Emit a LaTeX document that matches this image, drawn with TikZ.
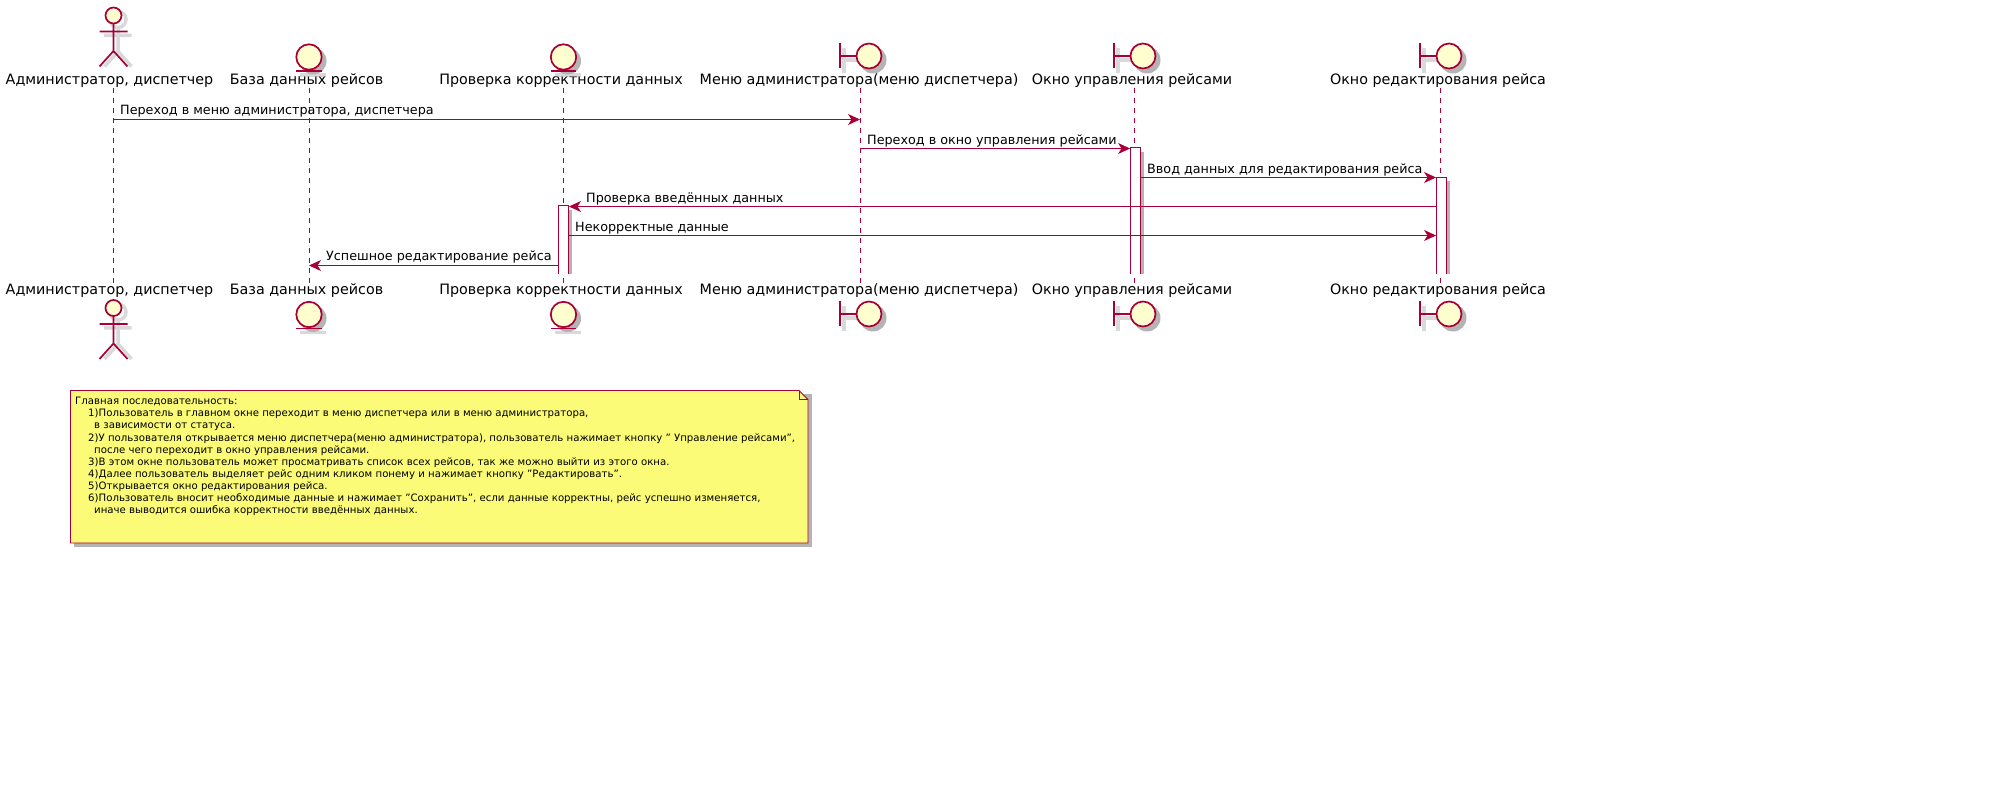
\documentclass[tikz,border=0pt]{standalone}
\usepackage{fontspec}
\setmainfont{DejaVu Sans}
\usepackage{xcolor}
\definecolor{umlline}{HTML}{A80036}
\definecolor{umlfill}{HTML}{FEFECE}
\definecolor{umlnote}{HTML}{FBFB77}
\definecolor{umlshade}{HTML}{B4B4B4}
\usetikzlibrary{arrows.meta,positioning,calc}
\tikzset{
  title/.style={font=\fontsize{14.3}{16}\selectfont,inner sep=0pt,text=black},
  msgtext/.style={font=\fontsize{12.75}{15}\selectfont,inner sep=0pt,anchor=base west,text=black},
  msg/.style={draw=umlline,line width=1pt,-{Stealth[length=12pt,width=11pt,inset=3.5pt]}},
  life/.style={draw=umlline,line width=.9pt,dash pattern=on 5pt off 5pt},
  actbar/.style={fill=white,minimum width=10.5pt,inner sep=0pt,anchor=north},
  shade/.style={draw=umlshade,opacity=.5,line width=3.5pt},
  umlstroke/.style={draw=umlline,line width=1.7pt},
  actorfig/.pic={
    \draw[shade] (4.5,4) circle (8) (-9.5,20) -- (18,20) (4.5,12) -- (4.5,36) (-9,51) -- (4.5,36) -- (18,51);
    \draw[umlstroke,fill=umlfill] (0,0) circle (8);
    \draw[umlstroke] (-14,16) -- (14,16) (0,8) -- (0,35.5) (-14,51) -- (0,35.5) -- (14,51);
  },
  entityfig/.pic={
    \fill[umlshade] (4,4) circle (13.5);
    \draw[shade] (-9,18) -- (17,18);
    \draw[umlstroke,fill=umlfill] (0,0) circle (12.7);
    \draw[umlstroke] (-12.7,14) -- (12.7,14);
  },
  boundaryfig/.pic={
    \fill[umlshade] (13,4) circle (13.5);
    \draw[shade] (-16,-8) -- (-16,17) (-16,4) -- (-3,4);
    \draw[umlstroke,fill=umlfill] (9,0) circle (12.5);
    \draw[umlstroke] (-20,-12.5) -- (-20,12.5) (-20,0) -- (-3.5,0);
  }
}
\newcommand{\actbox}[4]{% name, x, top, bottom
  \fill[umlshade] ({#2+5},{#3+4}) rectangle ({#2+8.5},#4);
  \node[actbar,minimum height=(#4-#3)*1pt] (#1) at (#2,#3) {};
  \draw[draw=umlline,line width=1pt] (#1.south west) |- (#1.north east) -- (#1.south east);
}
\begin{document}
\begin{tikzpicture}[x=1pt,y=-1pt]
\useasboundingbox[fill=white] (0,0) rectangle (1998,786);
% participants
\node[title] (admintop) at (109.5,81) {Администратор, диспетчер};
\node[title] (basetop) at (306.5,81) {База данных рейсов};
\node[title] (checktop) at (561,81) {Проверка корректности данных};
\node[title] (menutop) at (859,81) {Меню администратора(меню диспетчера)};
\node[title] (flighttop) at (1132,81) {Окно управления рейсами};
\node[title] (edittop) at (1438,81) {Окно редактирования рейса};
\node[title] (adminbot) at (109.5,291) {Администратор, диспетчер};
\node[title] (basebot) at (306.5,291) {База данных рейсов};
\node[title] (checkbot) at (561,291) {Проверка корректности данных};
\node[title] (menubot) at (859,291) {Меню администратора(меню диспетчера)};
\node[title] (flightbot) at (1132,291) {Окно управления рейсами};
\node[title] (editbot) at (1438,291) {Окно редактирования рейса};
% lifelines
\foreach \who/\xpos in {admin/113,base/309,check/563.5,menu/860,flight/1134,edit/1440}{
  \coordinate (\who a) at (\xpos,88);
  \coordinate (\who b) at (\xpos,283);
  \draw[life] (\who a) -- (\who b);
}
\pic at (113.5,15.5) {actorfig};
\pic at (113.5,308) {actorfig};
\foreach \who in {base,check}{
  \pic at ($(\who a)+(0,-31)$) {entityfig};
  \pic at ($(\who b)+(0,31.5)$) {entityfig};
}
\foreach \who in {menu,flight,edit}{
  \pic at ($(\who a)+(0,-32)$) {boundaryfig};
  \pic at ($(\who b)+(0,31)$) {boundaryfig};
}
% activations
\actbox{flightbar}{1135.5}{148}{274}
\actbox{editbar}{1441.5}{177.5}{274}
\actbox{checkbar}{563.5}{206}{274}
% messages
\foreach \idx/\ypos in {1/119.5,2/148.5,3/177.5,4/206.5,5/235.5,6/265.5}{
  \coordinate (row\idx) at (0,\ypos);
}
\draw[msg] (admina |- row1) -- (menua |- row1);
\draw[msg] (menua |- row2) -- (flightbar.west |- row2);
\draw[msg] (flightbar.east |- row3) -- (editbar.west |- row3);
\draw[msg] (editbar.west |- row4) -- (checkbar.east |- row4);
\draw[msg] (checkbar.east |- row5) -- (editbar.west |- row5);
\draw[msg] (checkbar.west |- row6) -- (basea |- row6);
\node[msgtext] (lab1) at (120,115) {Переход в меню администратора, диспетчера};
\node[msgtext] (lab2) at (867,144.5) {Переход в окно управления рейсами};
\node[msgtext] (lab3) at (1147,173.5) {Ввод данных для редактирования рейса};
\node[msgtext] (lab4) at (586,202.5) {Проверка введённых данных};
\node[msgtext] (lab5) at (575,231.5) {Некорректные данные};
\node[msgtext] (lab6) at (326,260.5) {Успешное редактирование рейса};
% note
\fill[umlshade] (74,394) rectangle (812,547);
\draw[draw=umlline,line width=.9pt,fill=umlnote] (70.5,390.5) -- (799,390.5) -- (808,399.5) -- (808,543) -- (70.5,543) -- cycle;
\draw[draw=umlline,line width=.9pt] (799,390.5) -- (799,399.5) -- (808,399.5);
\node[inner sep=0pt,anchor=north west,align=left,font=\fontsize{10.17}{12.15}\selectfont] (notetext) at (75,397) {%
Главная последовательность:\\
\hspace*{13pt}1)Пользователь в главном окне переходит в меню диспетчера или в меню администратора,\\
\hspace*{19pt}в зависимости от статуса.\\
\hspace*{13pt}2)У пользователя открывается меню диспетчера(меню администратора), пользователь нажимает кнопку " Управление рейсами",\\
\hspace*{19pt}после чего переходит в окно управления рейсами.\\
\hspace*{13pt}3)В этом окне пользователь может просматривать список всех рейсов, так же можно выйти из этого окна.\\
\hspace*{13pt}4)Далее пользователь выделяет рейс одним кликом понему и нажимает кнопку "Редактировать".\\
\hspace*{13pt}5)Открывается окно редактирования рейса.\\
\hspace*{13pt}6)Пользователь вносит необходимые данные и нажимает "Сохранить", если данные корректны, рейс успешно изменяется,\\
\hspace*{19pt}иначе выводится ошибка корректности введённых данных.};
\end{tikzpicture}
\end{document}
